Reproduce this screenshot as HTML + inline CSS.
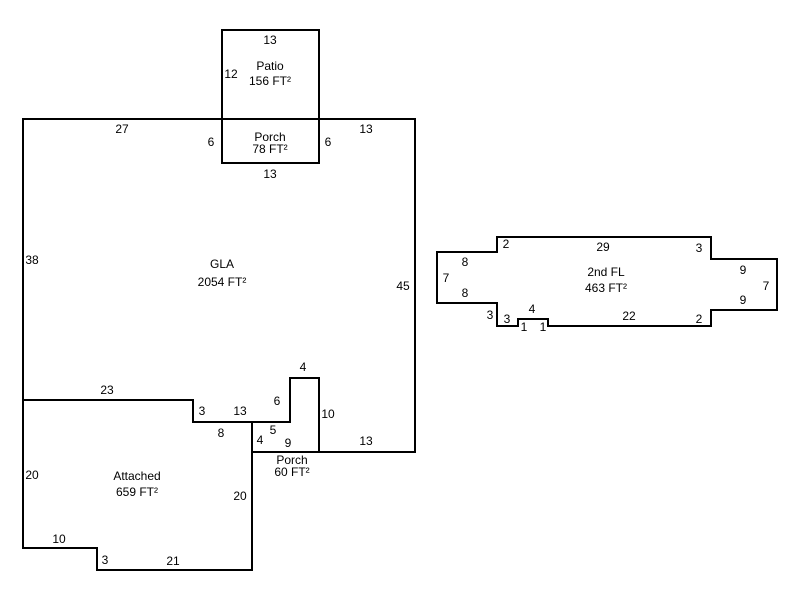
<!DOCTYPE html>
<html><head><meta charset="utf-8"><style>
body{margin:0;background:#fff}
svg text{font-family:"Liberation Sans",Arial,sans-serif;font-size:12px;fill:#000}
</style></head><body>
<svg width="800" height="600" viewBox="0 0 800 600" xmlns="http://www.w3.org/2000/svg">
<g fill="none" stroke="#000" stroke-width="2">
<rect x="222" y="30" width="97" height="133"/>
<path d="M23 119 H415 V452 H319 V378 H290 V422 H193 V400 H23 Z"/>
<path d="M23 400 V548 H97 V570 H252 V422"/>
<path d="M252 452 H319"/>
<path d="M437 252 H497 V237 H711 V259 H777 V310 H711 V326 H548 V319 H518 V326 H497 V303 H437 Z"/>
</g>
<g text-anchor="middle">
<text x="270" y="44">13</text>
<text x="231" y="78">12</text>
<text x="270" y="70">Patio</text>
<text x="270" y="85">156 FT²</text>
<text x="122" y="133">27</text>
<text x="211" y="146">6</text>
<text x="270" y="141">Porch</text>
<text x="270" y="153">78 FT²</text>
<text x="328" y="146">6</text>
<text x="366" y="133">13</text>
<text x="270" y="178">13</text>
<text x="32" y="264">38</text>
<text x="222" y="268">GLA</text>
<text x="222" y="286">2054 FT²</text>
<text x="403" y="290">45</text>
<text x="303" y="371">4</text>
<text x="107" y="394">23</text>
<text x="277" y="405">6</text>
<text x="202" y="415">3</text>
<text x="240" y="415">13</text>
<text x="328" y="418">10</text>
<text x="221" y="437">8</text>
<text x="273" y="434">5</text>
<text x="260" y="444">4</text>
<text x="288" y="447">9</text>
<text x="366" y="445">13</text>
<text x="292" y="464">Porch</text>
<text x="292" y="476">60 FT²</text>
<text x="32" y="479">20</text>
<text x="137" y="480">Attached</text>
<text x="137" y="496">659 FT²</text>
<text x="240" y="500">20</text>
<text x="59" y="543">10</text>
<text x="105" y="564">3</text>
<text x="173" y="565">21</text>
<text x="506" y="248">2</text>
<text x="603" y="251">29</text>
<text x="699" y="252">3</text>
<text x="465" y="266">8</text>
<text x="446" y="282">7</text>
<text x="465" y="297">8</text>
<text x="606" y="276">2nd FL</text>
<text x="606" y="292">463 FT²</text>
<text x="743" y="274">9</text>
<text x="766" y="290">7</text>
<text x="743" y="304">9</text>
<text x="490" y="319">3</text>
<text x="507" y="323">3</text>
<text x="532" y="313">4</text>
<text x="524" y="331">1</text>
<text x="543" y="331">1</text>
<text x="629" y="320">22</text>
<text x="699" y="323">2</text>
</g>
</svg>
</body></html>
